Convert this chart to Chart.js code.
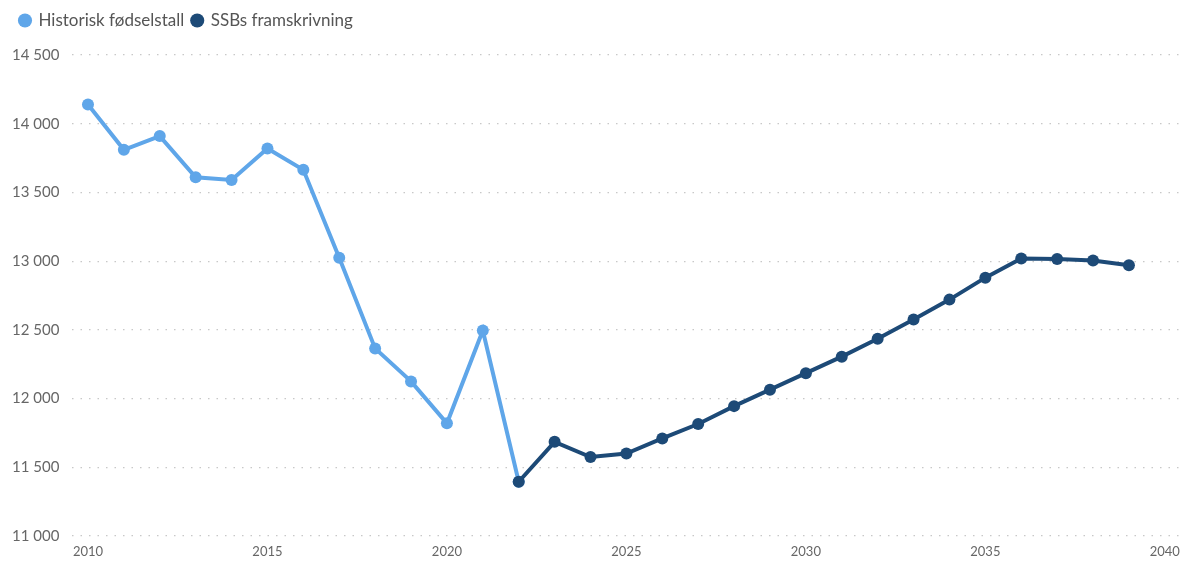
<!DOCTYPE html>
<html>
<head>
<meta charset="utf-8">
<script src="https://cdn.jsdelivr.net/npm/chart.js@4.4.0/dist/chart.umd.min.js"></script>
<style>
html,body{margin:0;padding:0;background:#fff;}
#wrap{width:1188px;height:561px;position:relative;}
</style>
</head>
<body>
<div id="wrap"><canvas id="c" width="1188" height="561"></canvas></div>
<script>
const historicYears = [2010,2011,2012,2013,2014,2015,2016,2017,2018,2019,2020,2021,2022];
const historicValues = [14140,13810,13910,13610,13590,13820,13665,13025,12365,12125,11820,12495,11395];
const forecastYears = [2022,2023,2024,2025,2026,2027,2028,2029,2030,2031,2032,2033,2034,2035,2036,2037,2038,2039];
const forecastValues = [11395,11685,11575,11600,11710,11815,11945,12065,12185,12305,12435,12575,12720,12880,13020,13015,13005,12970];
const xTicks = [2010,2015,2020,2025,2030,2035,2040];
const yTicks = [11000,11500,12000,12500,13000,13500,14000,14500];
const seriesNames = ['Historisk fødselstall','SSBs framskrivning'];

const lightBlue = '#5fa6e9';
const darkBlue = '#1d4a77';
const fmt = v => String(v).replace(/\B(?=(\d{3})+(?!\d))/g, ' ');

const legendSpacer = {
  id: 'legendSpacer',
  beforeInit(chart) {
    const orig = chart.legend.fit;
    chart.legend.fit = function () { orig.bind(chart.legend)(); this.height += 16; };
  }
};

new Chart(document.getElementById('c'), {
  type: 'line',
  plugins: [legendSpacer],
  data: {
    datasets: [
      {
        label: seriesNames[0],
        data: historicYears.map((y,i)=>({x:y,y:historicValues[i]})),
        borderColor: lightBlue, backgroundColor: lightBlue,
        borderWidth: 4, pointRadius: 6, pointHoverRadius: 6,
        pointBorderWidth: 0, tension: 0, order: 2
      },
      {
        label: seriesNames[1],
        data: forecastYears.map((y,i)=>({x:y,y:forecastValues[i]})),
        borderColor: darkBlue, backgroundColor: darkBlue,
        borderWidth: 4, pointRadius: 6, pointHoverRadius: 6,
        pointBorderWidth: 0, tension: 0, order: 1
      }
    ]
  },
  options: {
    responsive: false,
    animation: false,
    layout: { padding: { left: 12, right: 8, top: 4, bottom: 0 } },
    plugins: {
      tooltip: { enabled: false },
      legend: {
        position: 'top', align: 'start',
        labels: {
          usePointStyle: true, pointStyle: 'circle', boxWidth: 10, boxHeight: 10,
          color: '#555', padding: 8,
          sort: (a, b) => a.datasetIndex - b.datasetIndex,
          font: { family: 'Lato', size: 17 }
        }
      }
    },
    scales: {
      x: {
        type: 'linear', min: 2009.555, max: 2040.39,
        afterBuildTicks: s => { s.ticks = xTicks.map(v=>({value:v})); },
        afterFit: s => { s.height = 25; s.paddingBottom = 0; },
        grid: { display: false, drawTicks: false },
        border: { display: false },
        ticks: { color: '#666', font: { family: 'Lato', size: 13 }, padding: 8, maxRotation: 0, autoSkip: false,
          callback: v => String(v) }
      },
      y: {
        min: 11000, max: 14500,
        afterBuildTicks: s => { s.ticks = yTicks.map(v=>({value:v})); },
        afterFit: s => { s.width = 60; s.paddingBottom = 0; },
        grid: { color: '#c8c8c8', lineWidth: 1.2, drawTicks: false },
        border: { display: false, dash: [1.5, 7] },
        ticks: { color: '#666', font: { family: 'Lato', size: 15 }, crossAlign: 'far', padding: 8,
          callback: v => fmt(v) }
      }
    }
  }
});
</script>
</body>
</html>
